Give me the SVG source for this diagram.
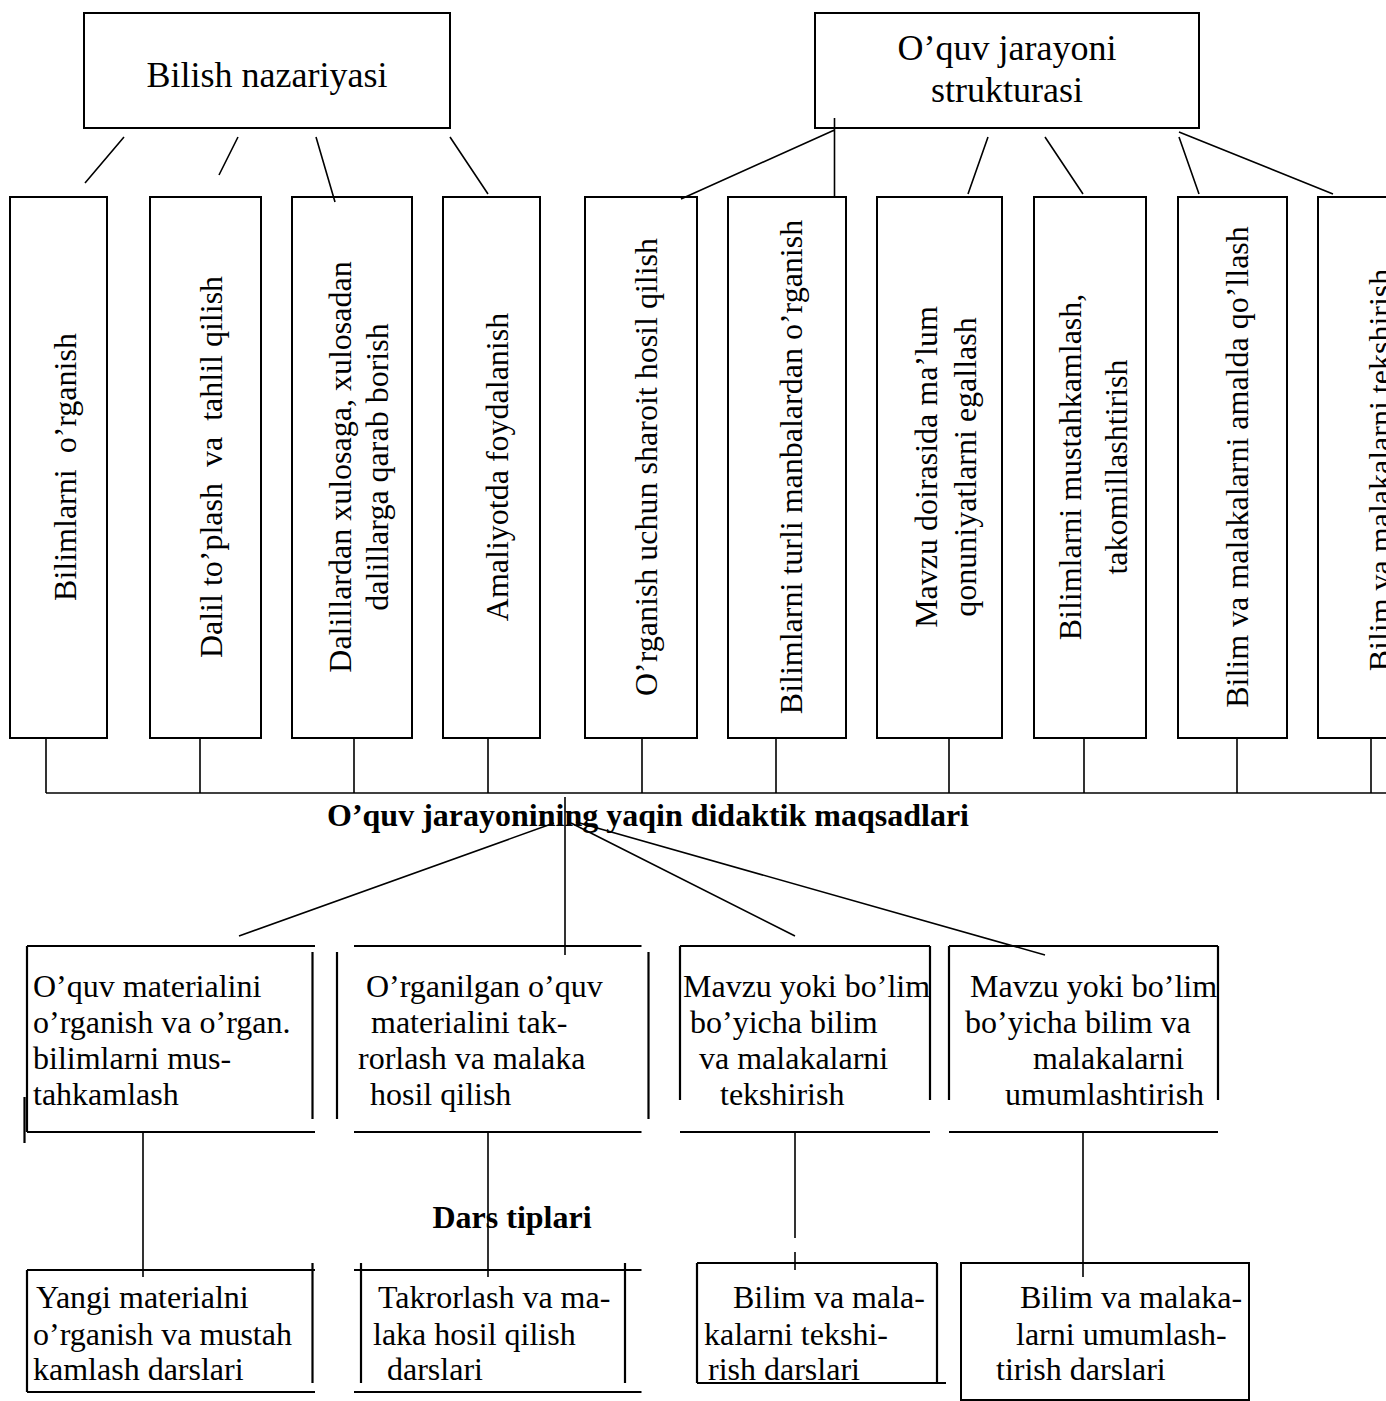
<svg xmlns="http://www.w3.org/2000/svg" width="1386" height="1401" viewBox="0 0 1386 1401">
<style>
  .bx{fill:none;stroke:#000;stroke-width:2}
  .ln{stroke:#000;stroke-width:1.6;fill:none}
  .bl{stroke:#000;stroke-width:2.2;fill:none}
  text{font-family:"Liberation Serif","Times New Roman",serif;font-size:32px;fill:#000;white-space:pre}
  .h{font-size:36px}
  .b{font-weight:bold}
  .c{text-anchor:middle}
</style>
<rect width="1386" height="1401" fill="#fff"/>

<g id="bilish">
  <rect class="bx" x="84" y="13" width="366" height="115"/>
  <text class="h c" x="267" y="87">Bilish nazariyasi</text>
</g>
<g id="struktura">
  <rect class="bx" x="815" y="13" width="384" height="115"/>
  <text class="h c" x="1007" y="60">O’quv jarayoni</text>
  <text class="h c" x="1007" y="102">strukturasi</text>
</g>

<g id="v1"><rect class="bx" x="10" y="197" width="97" height="541"/>
  <text class="c" xml:space="preserve" transform="translate(76,467) rotate(-90)">Bilimlarni  o’rganish</text></g>
<g id="v2"><rect class="bx" x="150" y="197" width="111" height="541"/>
  <text class="c" xml:space="preserve" transform="translate(222,467) rotate(-90)">Dalil to’plash  va  tahlil qilish</text></g>
<g id="v3"><rect class="bx" x="292" y="197" width="120" height="541"/>
  <text class="c" transform="translate(351,467) rotate(-90)">Dalillardan xulosaga, xulosadan</text>
  <text class="c" transform="translate(388,467) rotate(-90)">dalillarga qarab borish</text></g>
<g id="v4"><rect class="bx" x="443" y="197" width="97" height="541"/>
  <text class="c" transform="translate(508,467) rotate(-90)">Amaliyotda foydalanish</text></g>
<g id="v5"><rect class="bx" x="585" y="197" width="112" height="541"/>
  <text class="c" transform="translate(657,467) rotate(-90)">O’rganish uchun sharoit hosil qilish</text></g>
<g id="v6"><rect class="bx" x="728" y="197" width="118" height="541"/>
  <text class="c" transform="translate(802,467) rotate(-90)">Bilimlarni turli manbalardan o’rganish</text></g>
<g id="v7"><rect class="bx" x="877" y="197" width="125" height="541"/>
  <text class="c" transform="translate(937,467) rotate(-90)">Mavzu doirasida ma’lum</text>
  <text class="c" transform="translate(976,467) rotate(-90)">qonuniyatlarni egallash</text></g>
<g id="v8"><rect class="bx" x="1034" y="197" width="112" height="541"/>
  <text class="c" transform="translate(1081,467) rotate(-90)">Bilimlarni mustahkamlash,</text>
  <text class="c" transform="translate(1127,467) rotate(-90)">takomillashtirish</text></g>
<g id="v9"><rect class="bx" x="1178" y="197" width="109" height="541"/>
  <text class="c" transform="translate(1248,467) rotate(-90)">Bilim va malakalarni amalda qo’llash</text></g>
<g id="v10"><rect class="bx" x="1318" y="197" width="110" height="541"/>
  <text class="c" transform="translate(1391,470) rotate(-90)">Bilim va malakalarni tekshirish</text></g>

<g id="maqsad-label">
  <text class="b c" x="648" y="826">O’quv jarayonining yaqin didaktik maqsadlari</text>
</g>
<g id="dars-label">
  <text class="b c" x="512" y="1228">Dars tiplari</text>
</g>

<g id="m1">
  <path class="bl" d="M27 946H315M27 946V1132M27 1132H315M312.5 952V1119M24.5 1097V1143"/>
  <text x="33" y="997">O’quv materialini</text>
  <text x="33" y="1033">o’rganish va o’rgan.</text>
  <text x="33" y="1069">bilimlarni mus-</text>
  <text x="33" y="1105">tahkamlash</text>
</g>
<g id="m2">
  <path class="bl" d="M354 946H641.5M354 1132H641.5M337 952V1119M648.5 952V1119"/>
  <text x="366" y="997">O’rganilgan o’quv</text>
  <text x="371" y="1033">materialini tak-</text>
  <text x="358" y="1069">rorlash va malaka</text>
  <text x="370" y="1105">hosil qilish</text>
</g>
<g id="m3">
  <path class="bl" d="M680 946H930M680 946V1100M930 946V1100M680 1132H930"/>
  <text x="683" y="997">Mavzu yoki bo’lim</text>
  <text x="690" y="1033">bo’yicha bilim</text>
  <text x="699" y="1069">va malakalarni</text>
  <text x="720" y="1105">tekshirish</text>
</g>
<g id="m4">
  <path class="bl" d="M949 946H1218M949 946V1100M1218 946V1100M949 1132H1218"/>
  <text x="970" y="997">Mavzu yoki bo’lim</text>
  <text x="965" y="1033">bo’yicha bilim va</text>
  <text x="1033" y="1069">malakalarni</text>
  <text x="1005" y="1105">umumlashtirish</text>
</g>

<g id="d1">
  <path class="bl" d="M27 1270H315M27 1270V1392M27 1392H315M312.5 1263V1383"/>
  <text x="36" y="1308">Yangi materialni</text>
  <text x="33" y="1345">o’rganish va mustah</text>
  <text x="33" y="1380">kamlash darslari</text>
</g>
<g id="d2">
  <path class="bl" d="M354 1270H641.5M354 1392H641.5M361 1263V1383M625 1263V1383"/>
  <text x="378" y="1308">Takrorlash va ma-</text>
  <text x="373" y="1345">laka hosil qilish</text>
  <text x="387" y="1380">darslari</text>
</g>
<g id="d3">
  <path class="bl" d="M697 1263H937M697 1263V1383M937 1263V1383M697 1383H946"/>
  <text x="733" y="1308">Bilim va mala-</text>
  <text x="704" y="1345">kalarni tekshi-</text>
  <text x="708" y="1380">rish darslari</text>
</g>
<g id="d4">
  <rect class="bx" x="961" y="1263" width="288" height="137"/>
  <text x="1020" y="1308">Bilim va malaka-</text>
  <text x="1016" y="1345">larni umumlash-</text>
  <text x="996" y="1380">tirish darslari</text>
</g>

<g id="connectors">
  <path class="ln" d="M124 137L85 183M238 137L219 175M316 137L335 202M450 137L488 194"/>
  <path class="ln" d="M834.5 118V197M834.5 130L681 199M988 137L968 194M1045 137L1083 194M1179 137L1199 194M1179 132L1333 194"/>
  <path class="ln" d="M46 738V793M200 738V793M354 738V793M488 738V793M642 738V793M776 738V793M949 738V793M1084 738V793M1237 738V793M1371 738V793"/>
  <path class="ln" d="M46 793H1386"/>
  <path class="ln" d="M565 797V955M554 823L239 936M571 823L795 936M576 822L1045 955"/>
  <path class="ln" d="M143 1132V1277M488 1132V1277M795 1132V1238M795 1252V1270M1083 1132V1277"/>
</g>
</svg>
